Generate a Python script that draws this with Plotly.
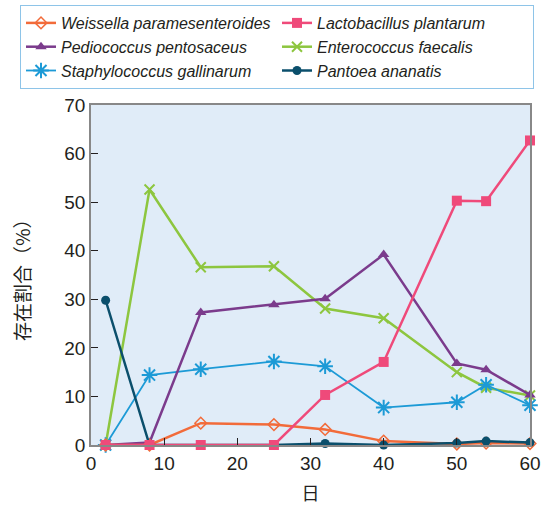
import plotly.graph_objects as go

days = [2, 8, 15, 25, 32, 40, 50, 54, 60]
weissella = [0, 0, 4.5, 4.2, 3.2, 0.8, 0.2, 0.4, 0.3]
lactobacillus = [0, 0, 0, 0, 10.3, 17.1, 50.3, 50.2, 62.7]
pediococcus = [0, 0.5, 27.3, 28.9, 30.1, 39.2, 16.8, 15.5, 10.3]
enterococcus = [0, 52.6, 36.6, 36.8, 28.1, 26.1, 15.0, 11.8, 10.2]
staphylococcus = [0, 14.4, 15.6, 17.2, 16.2, 7.7, 8.8, 12.4, 8.2]
pantoea = [29.8, 0, 0, 0, 0.3, 0, 0.4, 0.8, 0.5]

series = {
    "Weissella paramesenteroides": (weissella, "#F26B3A", "diamond-open", 9, 2.5, 1),
    "Lactobacillus plantarum": (lactobacillus, "#EF4A7A", "square", 10, 2.5, 2),
    "Pediococcus pentosaceus": (pediococcus, "#7B3B8C", "triangle-up", 10, 2.5, 3),
    "Enterococcus faecalis": (enterococcus, "#8DC63F", "x-thin-open", 10, 2.5, 4),
    "Staphylococcus gallinarum": (staphylococcus, "#1C9AD6", "asterisk-open", 13, 1.8, 5),
    "Pantoea ananatis": (pantoea, "#0B4F6C", "circle", 9, 2.5, 6),
}

draw_order = ["Enterococcus faecalis", "Staphylococcus gallinarum",
              "Pediococcus pentosaceus", "Weissella paramesenteroides",
              "Pantoea ananatis", "Lactobacillus plantarum"]

fig = go.Figure()
for nm in draw_order:
    vals, col, sym, sz, lw, rank = series[nm]
    mk = dict(symbol=sym, size=sz, color=col)
    if sym.endswith("-open"):
        mk["line"] = dict(color=col, width=2 if sym != "diamond-open" else 1.5)
    fig.add_trace(go.Scatter(
        x=days, y=vals, name=nm, mode="lines+markers",
        line=dict(color=col, width=lw), marker=mk, legendrank=rank,
        cliponaxis=False,
    ))

fig.update_layout(
    width=549, height=508,
    margin=dict(l=91, r=19, t=105, b=63, autoexpand=False),
    paper_bgcolor="white",
    plot_bgcolor="#E0ECF8",
    font=dict(family="Liberation Sans, Arial, sans-serif", color="#231F20", size=19),
    legend=dict(
        orientation="h",
        x=(20 - 91) / 439, y=1 + 100 / 340, xanchor="left", yanchor="top",
        entrywidth=211, entrywidthmode="pixels",
        bordercolor="#8EC4E8", borderwidth=1, bgcolor="white",
        font=dict(size=16, style="italic", color="#231F20"),
        traceorder="normal", itemwidth=30,
    ),
    xaxis=dict(
        range=[0, 60], tickvals=[0, 10, 20, 30, 40, 50, 60],
        ticks="inside", ticklen=7, tickcolor="#231F20",
        showgrid=False, zeroline=False,
        showline=True, linecolor="#888888", linewidth=1.5, mirror=True,
        title=dict(text="日", font=dict(size=18, family="Noto Sans CJK JP")),
    ),
    yaxis=dict(
        range=[0, 70], tickvals=[0, 10, 20, 30, 40, 50, 60, 70],
        ticks="inside", ticklen=7, tickcolor="#231F20",
        showgrid=False, zeroline=False,
        showline=True, linecolor="#888888", linewidth=1.5, mirror=True,
    ),
    annotations=[dict(
        text="存在割合（%）", textangle=-90, showarrow=False,
        xref="paper", yref="paper", x=(21 - 91) / 439, y=0.5,
        xanchor="center", yanchor="middle",
        font=dict(size=19, family="Noto Sans CJK JP", color="#231F20"),
    )],
)

fig.write_html("out.html", config={"displayModeBar": False},
               post_script="document.body.style.margin='0';")
